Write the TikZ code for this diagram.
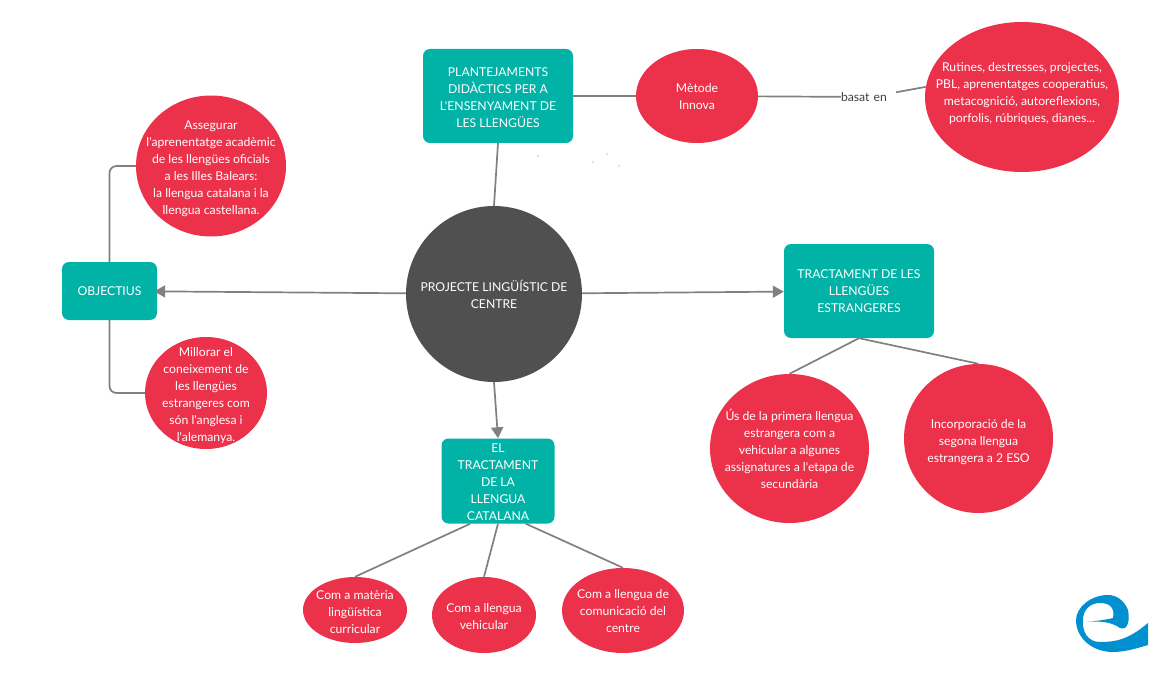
\documentclass[tikz,border=0pt]{standalone}
\usepackage{fontspec}
\setmainfont{Lato}[Ligatures=TeXOff]
\usetikzlibrary{positioning,arrows.meta,shapes.geometric}

\newcommand{\nudge}[2]{\raisebox{#1}[0pt][0pt]{\begin{tabular}{@{}c@{}}#2\end{tabular}}}

\begin{document}
\begin{tikzpicture}[
        x=1pt, y=-1pt,
        every node/.style={font=\fontsize{12.2}{17}\selectfont},
        tema/.style={rectangle, fill=tealbox, text=white, rounded corners=7pt, align=center, inner sep=0pt},
        bubble/.style={ellipse, fill=redbubble, text=white, align=center, inner sep=-45pt},
        line/.style={draw=linegray, line width=1.7pt},
        arrow/.style={line, -{Triangle[length=11pt,width=12pt]}}
    ]
        \definecolor{tealbox}{HTML}{00B3A6}
        \definecolor{redbubble}{HTML}{EC314A}
        \definecolor{centregray}{HTML}{505050}
        \definecolor{linegray}{HTML}{808080}
        \definecolor{logoblue}{HTML}{0090CF}
        \useasboundingbox (0,0) rectangle (1167,679);

        \node[bubble, fill=centregray, minimum width=176pt, minimum height=176pt] (centre) at (494,294) {\nudge{-6pt}{PROJECTE LINGÜÍSTIC DE\\CENTRE}};

        \node[tema, minimum width=150pt, minimum height=94pt] (plantejaments) at (498,96) {\nudge{-5.5pt}{PLANTEJAMENTS\\DIDÀCTICS PER A\\L'ENSENYAMENT DE\\LES LLENGÜES}};
        \node[bubble, minimum width=122pt, minimum height=94pt] (metode) at (697,96) {\nudge{-5pt}{Mètode\\Innova}};
        \node[inner sep=0pt, text width=58pt, align=left, text=black!75] (basat) at (870,97) {basat en};
        \node[bubble, minimum width=194pt, minimum height=150pt] (rutines) at (1022,97) {\nudge{0pt}{Rutines, destresses, projectes,\\PBL, aprenentatges cooperatius,\\metacognició, autoreflexions,\\porfolis, rúbriques, dianes...}};

        \node[tema, minimum width=95pt, minimum height=58pt] (objectius) at (109.5,291) {OBJECTIUS};
        \node[bubble, minimum width=150pt, minimum height=141pt] (assegurar) at (211,166) {\nudge{-6pt}{Assegurar\\l'aprenentatge acadèmic\\de les llengües oficials\\a les Illes Balears:\\la llengua catalana i la\\llengua castellana.}};
        \node[bubble, minimum width=122pt, minimum height=112pt] (millorar) at (206,393) {\nudge{-6pt}{Millorar el\\coneixement de\\les llengües\\estrangeres com\\són l'anglesa i\\l'alemanya.}};

        \node[tema, minimum width=150pt, minimum height=94pt] (estrangeres) at (859,291) {TRACTAMENT DE LES\\LLENGÜES\\ESTRANGERES};
        \node[bubble, minimum width=159pt, minimum height=149pt] (primera) at (789.5,448.5) {Ús de la primera llengua\\estrangera com a\\vehicular a algunes\\assignatures a l'etapa de\\secundària};
        \node[bubble, minimum width=149pt, minimum height=149pt] (segona) at (978.5,438.5) {\nudge{-7pt}{Incorporació de la\\segona llengua\\estrangera a 2 ESO}};

        \node[tema, minimum width=113pt, minimum height=85pt] (catalana) at (498,481) {\nudge{-5.5pt}{EL\\TRACTAMENT\\DE LA\\LLENGUA\\CATALANA}};
        \node[bubble, minimum width=104pt, minimum height=66pt] (materia) at (355,610) {\nudge{-6pt}{Com a matèria\\lingüística\\curricular}};
        \node[bubble, minimum width=104pt, minimum height=76pt] (vehicular) at (484,615) {\nudge{-6pt}{Com a llengua\\vehicular}};
        \node[bubble, minimum width=122pt, minimum height=85pt] (comunicacio) at (623,610.5) {\nudge{-5pt}{Com a llengua de\\comunicació del\\centre}};

        \draw[line] (plantejaments.south) -- (centre.north);
        \draw[line] (plantejaments) -- (metode);
        \draw[line] (metode) -- (basat);
        \draw[line] (basat) -- (rutines.174);
        \draw[arrow, shorten >=-3pt] (centre) -- (objectius);
        \draw[arrow] (centre) -- (estrangeres);
        \draw[arrow] (centre.south) -- (catalana.north);
        \draw[line, rounded corners=7pt] (objectius.north) |- (assegurar.west);
        \draw[line, rounded corners=7pt] (objectius.south) |- (millorar.west);
        \draw[line] (estrangeres.south) -- (primera.north);
        \draw[line] (estrangeres.south) -- (segona.north);
        \draw[line] (catalana.-123) -- (materia.north);
        \draw[line] (catalana.south) -- (vehicular.north);
        \draw[line] (catalana.-57) -- (comunicacio.north);

        % specks and logo
        \foreach \px/\py in {538/156, 607/154, 593/162, 619/166}
            \fill[linegray] (\px,\py) circle (0.6pt);
        \fill[logoblue] (1148,623) .. controls (1128,640) and (1115,642) .. (1100,642)
            .. controls (1088,642) and (1082,632) .. (1083,620)
            .. controls (1083,610) and (1090,603) .. (1100,603)
            .. controls (1110,603) and (1115,608) .. (1113,618)
            .. controls (1105,620) and (1095,621) .. (1086,622)
            .. controls (1098,621) and (1110,621) .. (1120,628)
            .. controls (1128,631) and (1130,620) .. (1128,610)
            .. controls (1124,600) and (1116,595) .. (1108,595)
            .. controls (1090,595) and (1076,608) .. (1076,620)
            .. controls (1076,638) and (1092,652) .. (1113,652)
            .. controls (1125,652) and (1138,648) .. (1148,645) -- cycle;
    \end{tikzpicture}
\end{document}
